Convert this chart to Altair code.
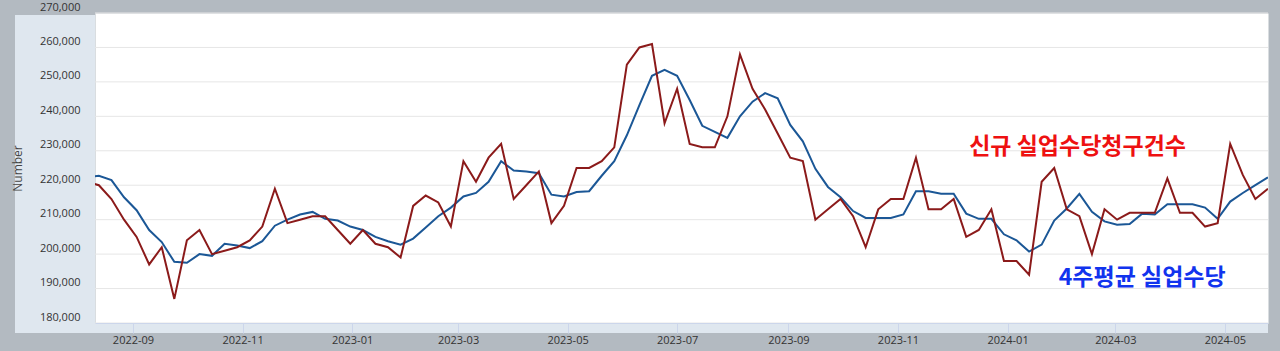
import altair as alt
import pandas as pd

# ---------------- data ----------------
start_week = "2022-08-06"  # weekly (Saturday) observations

initial_claims = [
    221000, 220000, 216000, 210000, 205000, 197000, 202000, 187000, 204000, 207000,
    200000, 201000, 202000, 204000, 208000, 219000, 209000, 210000, 211000, 211000,
    207000, 203000, 207000, 203000, 202000, 199000, 214000, 217000, 215000, 208000,
    227000, 221000, 228000, 232000, 216000, 220000, 224000, 209000, 214000, 225000,
    225000, 227000, 231000, 255000, 260000, 261000, 238000, 248000, 232000, 231000,
    231000, 240000, 258000, 248000, 242000, 235000, 228000, 227000, 210000, 213000,
    216000, 211000, 202000, 213000, 216000, 216000, 228000, 213000, 213000, 216000,
    205000, 207000, 213000, 198000, 198000, 194000, 221000, 225000, 213000, 211000,
    200000, 213000, 210000, 212000, 212000, 212000, 222000, 212000, 212000, 208000,
    209000, 232000, 223000, 216000, 219000,
]

avg_4week = [
    222250, 222750, 221500, 216500, 212750, 207000, 203500, 197750, 197500, 200000,
    199500, 203000, 202500, 201750, 203750, 208250, 210000, 211500, 212250, 210250,
    209750, 208000, 207000, 205000, 203750, 202750, 204500, 207750, 211000, 213500,
    216750, 217750, 221000, 227000, 224250, 224000, 223500, 217250, 216750, 218000,
    218250, 222750, 227000, 234500, 243250, 251750, 253500, 251750, 244750, 237250,
    235500, 233750, 240000, 244250, 246750, 245250, 237500, 232750, 224750, 219500,
    216500, 212500, 210500, 210500, 210500, 211500, 218250, 218250, 217500, 217500,
    211750, 210250, 210250, 205750, 204000, 200750, 202750, 209750, 213250, 217500,
    212250, 209500, 208500, 208750, 211750, 211500, 214500, 214500, 214500, 213500,
    210250, 215250, 217750, 220000, 222250,
]

y_ticks = [180000, 190000, 200000, 210000, 220000, 230000, 240000, 250000, 260000, 270000]
x_tick_months = [(2022, 9), (2022, 11), (2023, 1), (2023, 3), (2023, 5), (2023, 7),
                 (2023, 9), (2023, 11), (2024, 1), (2024, 3), (2024, 5)]

label_texts = ["신규 실업수당청구건수", "4주평균 실업수당"]
label_dates = ["2024-02-09", "2024-03-16"]
label_values = [231000, 193000]

# ---------------- layout ----------------
W, H = 1173, 310
RED, BLUE = "#8b1a1a", "#1b5796"
PANEL = "#dfe7ef"
FONT = "Open Sans"

dates = pd.date_range(start_week, periods=len(initial_claims), freq="7D").strftime("%Y-%m-%d")
df_claims = pd.DataFrame({"date": dates, "value": initial_claims})
df_avg = pd.DataFrame({"date": dates, "value": avg_4week})
df_grid = pd.DataFrame({"value": y_ticks})
df_labels = pd.DataFrame({"date": label_dates, "value": label_values, "label": label_texts})
one = pd.DataFrame({"k": [0]})

xscale = alt.Scale(
    type="utc",
    domain=[alt.DateTime(year=2022, month=8, date=10, hours=20, utc=True),
            alt.DateTime(year=2024, month=5, date=25, hours=1, utc=True)],
)
yscale = alt.Scale(domain=[180000, 270000], nice=False, zero=False)

xaxis = alt.Axis(
    values=[alt.DateTime(year=y, month=m, date=1, utc=True) for y, m in x_tick_months],
    format="%Y-%m", grid=False, domain=True, domainColor="#ccd6eb",
    ticks=True, tickSize=10, tickColor="#ccd6eb", labelPadding=1,
    labelFont=FONT, labelFontSize=11, labelColor="#333333",
    labelFlush=False, labelOverlap=False, title=None, zindex=1,
)
yaxis = alt.Axis(
    values=y_ticks, format=",.0f", grid=False, domain=False, ticks=False,
    labelPadding=15, labelOffset=-6, labelBaseline="middle",
    labelFont=FONT, labelFontSize=11, labelColor="#333333",
    title="Number", titleX=-78, titleY=155, titleAngle=270, titleAlign="center",
    titleBaseline="middle", titleFont=FONT, titleFontSize=12,
    titleFontWeight="normal", titleColor="#444444", zindex=1,
)

panel_left = alt.Chart(one).mark_rect(color=PANEL).encode(
    x=alt.value(-80), x2=alt.value(0), y=alt.value(2), y2=alt.value(H + 10)
)
panel_bottom = alt.Chart(one).mark_rect(color=PANEL).encode(
    x=alt.value(0), x2=alt.value(W), y=alt.value(H), y2=alt.value(H + 10)
)

grid = alt.Chart(df_grid).mark_rule(color="#e6e6e6", strokeWidth=1).encode(
    y=alt.Y("value:Q", scale=yscale, axis=yaxis),
    x=alt.value(0), x2=alt.value(W),
)

line_avg = alt.Chart(df_avg).mark_line(color=BLUE, strokeWidth=2, clip=True).encode(
    x=alt.X("date:T", scale=xscale, axis=xaxis),
    y=alt.Y("value:Q", scale=yscale, axis=yaxis),
)
line_claims = alt.Chart(df_claims).mark_line(color=RED, strokeWidth=2, clip=True).encode(
    x=alt.X("date:T", scale=xscale, axis=xaxis),
    y=alt.Y("value:Q", scale=yscale, axis=yaxis),
)

labels = alt.Chart(df_labels).mark_text(
    font="Noto Sans CJK KR", fontWeight="bold", fontSize=23,
    align="center", baseline="middle",
).encode(
    x=alt.X("date:T", scale=xscale, axis=xaxis),
    y=alt.Y("value:Q", scale=yscale, axis=yaxis),
    text="label:N",
    color=alt.Color("label:N", scale=alt.Scale(domain=label_texts, range=["#ee1111", "#1133ee"]),
                    legend=None),
)

chart = alt.layer(panel_left, panel_bottom, grid, line_avg, line_claims, labels).properties(
    width=W, height=H, background="#b3bac1",
    autosize=alt.AutoSizeParams(type="none"),
    padding={"left": 95, "top": 13, "right": 12, "bottom": 28},
).configure_view(fill="white", stroke="transparent")

chart.save("out.html", embed_options={"renderer": "svg", "actions": False})
